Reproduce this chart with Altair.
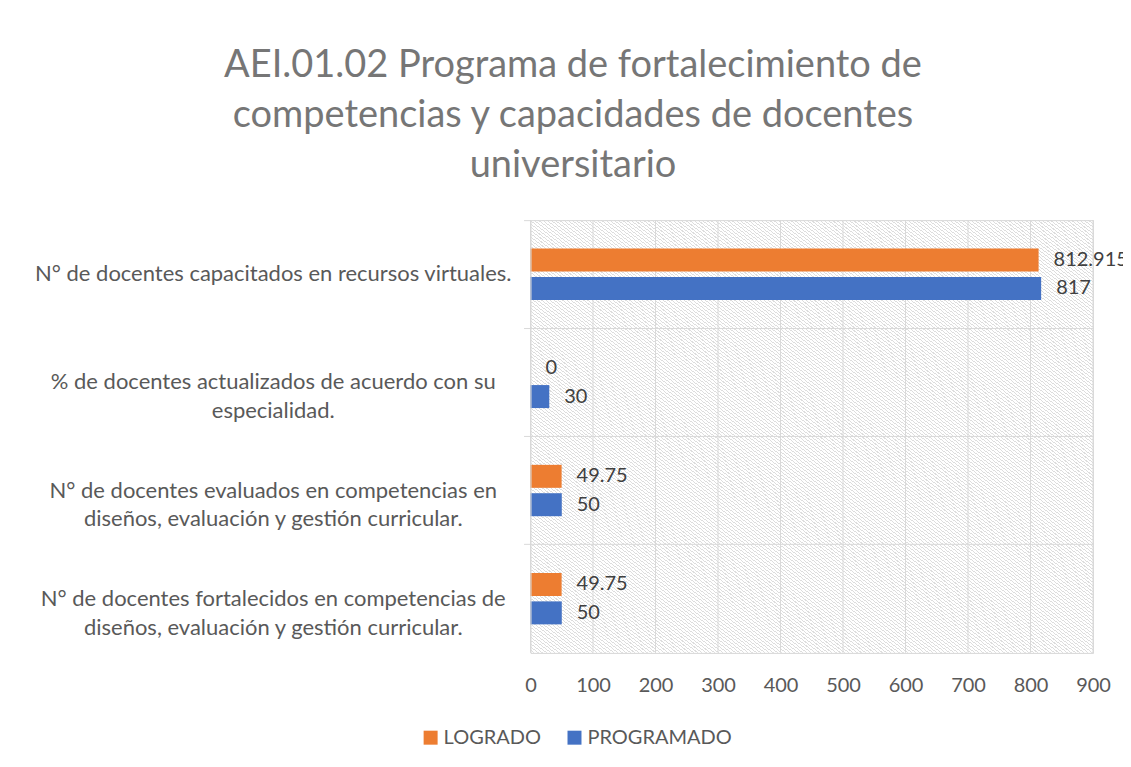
import altair as alt
import pandas as pd

categorias = [
    "N° de docentes capacitados en recursos virtuales.",
    "% de docentes actualizados de acuerdo con su|especialidad.",
    "N° de docentes evaluados en competencias en|diseños, evaluación y gestión curricular.",
    "N° de docentes fortalecidos en competencias de|diseños, evaluación y gestión curricular.",
]
series = ["LOGRADO", "PROGRAMADO"]
logrado = [812.915, 0, 49.75, 49.75]
programado = [817, 30, 50, 50]
colores = ["#ED7D31", "#4472C4"]
ticks_x = [0, 100, 200, 300, 400, 500, 600, 700, 800, 900]
titulo = [
    "AEI.01.02 Programa de fortalecimiento de",
    "competencias y capacidades de docentes",
    "universitario",
]

rows = []
for c, l, p in zip(categorias, logrado, programado):
    rows.append({"cat": c, "serie": series[0], "valor": l, "etiqueta": f"{l:g}"})
    rows.append({"cat": c, "serie": series[1], "valor": p, "etiqueta": f"{p:g}"})
df = pd.DataFrame(rows)

FONT = "Lato"
GRID = "#d9d9d9"

# diagonal hatch pattern approximated with a striped linear gradient
N = 268
stops = []
for i in range(N):
    a = round(i / N, 6)
    b = round((i + 0.68) / N, 6)
    e = round((i + 1) / N, 6)
    stops += [
        alt.GradientStop(offset=a, color="#ffffff"),
        alt.GradientStop(offset=b, color="#ffffff"),
        alt.GradientStop(offset=b, color="#dddddd"),
        alt.GradientStop(offset=e, color="#dddddd"),
    ]
hatch_fill = alt.LinearGradient(gradient="linear", stops=stops, x1=0, y1=1, x2=1, y2=0)

xscale = alt.Scale(domain=[0, 900], nice=False, zero=True)
xaxis = alt.Axis(
    title=None, values=ticks_x, grid=False, ticks=False, domainColor=GRID,
    labelFontSize=20, labelColor="#595959", labelFont=FONT, labelPadding=23,
    labelFlush=False, labelOverlap=False,
)

hatch = alt.Chart(pd.DataFrame({"x0": [ticks_x[0]], "x1": [ticks_x[-1]]})).mark_rect(
    fill=hatch_fill
).encode(x=alt.X("x0:Q", scale=xscale, axis=xaxis), x2="x1:Q")

vgrid = alt.Chart(pd.DataFrame({"t": ticks_x})).mark_rule(color=GRID, strokeWidth=1).encode(
    x=alt.X("t:Q", scale=xscale, axis=xaxis)
)

yenc = alt.Y(
    "cat:N", sort=categorias,
    scale=alt.Scale(paddingInner=0, paddingOuter=0),
    axis=alt.Axis(
        title=None, labelExpr="split(datum.label, '|')", labelAlign="center",
        labelBaseline="middle", labelPadding=251, tickSize=7, bandPosition=0,
        grid=True, gridColor=GRID, domainColor=GRID, tickColor=GRID,
        labelFontSize=22, labelFont=FONT, labelColor="#595959",
        labelLineHeight=29, labelLimit=700, zindex=1,
    ),
)
yoff = alt.YOffset(
    "serie:N", sort=series, scale=alt.Scale(paddingInner=0.19, paddingOuter=1)
)

bars = alt.Chart(df).mark_bar().encode(
    x=alt.X("valor:Q", scale=xscale, axis=xaxis),
    y=yenc,
    yOffset=yoff,
    color=alt.Color(
        "serie:N",
        scale=alt.Scale(domain=series, range=colores),
        legend=alt.Legend(
            title=None, orient="none", legendX=-110, legendY=508, direction="horizontal",
            symbolType="square", symbolSize=196, symbolStrokeWidth=0,
            labelFontSize=20, labelColor="#595959", labelFont=FONT,
            columnPadding=23, labelOffset=3,
        ),
    ),
)

text = alt.Chart(df).mark_text(
    align="left", baseline="middle", dx=15, fontSize=20, font=FONT, color="#404040"
).encode(
    x=alt.X("valor:Q", scale=xscale, axis=xaxis),
    y=yenc,
    yOffset=yoff,
    text="etiqueta:N",
)

chart = alt.layer(hatch, vgrid, bars, text).properties(
    width=563,
    height=433,
    autosize=alt.AutoSizeParams(type="none"),
    padding={"left": 523, "top": 212, "right": 30, "bottom": 100},
    title=alt.TitleParams(
        text=titulo, fontSize=38, font=FONT, fontWeight="normal", color="#767676",
        lineHeight=50, anchor="middle", dx=-239, offset=35,
    ),
).configure_view(stroke=GRID)

chart.save("out.html", embed_options={"renderer": "svg", "actions": False})
